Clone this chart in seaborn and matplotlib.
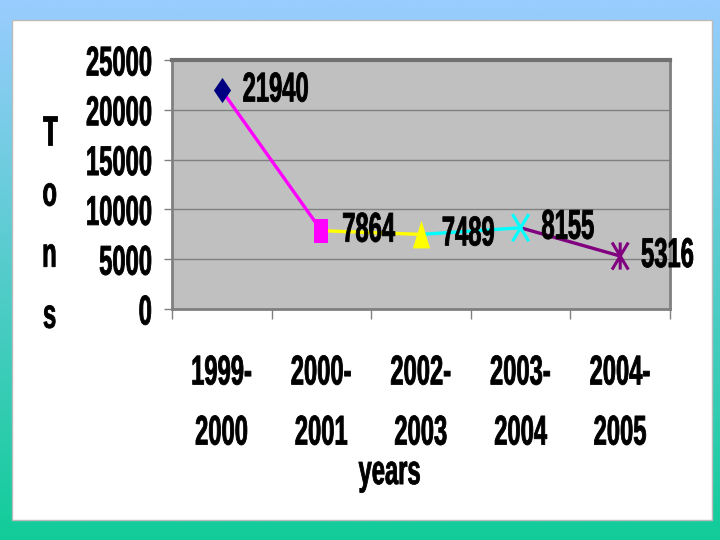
import numpy as np
import pandas as pd
import matplotlib
matplotlib.use("Agg")
import matplotlib.pyplot as plt
import seaborn as sns
from matplotlib.path import Path
from matplotlib.patches import Rectangle
from matplotlib import patheffects
from matplotlib.transforms import Affine2D

# --- data ---
periods = ["1999-\n2000", "2000-\n2001", "2002-\n2003", "2003-\n2004", "2004-\n2005"]
tons = [21940, 7864, 7489, 8155, 5316]
point_colors = ["#000080", "#FF00FF", "#FFFF00", "#00FFFF", "#800080"]
segment_colors = ["#FF00FF", "#FFFF00", "#00FFFF", "#800080"]
yticks = [0, 5000, 10000, 15000, 20000, 25000]

# tall (stretched) markers like the Excel original
MOVE, LINE = Path.MOVETO, Path.LINETO
diamond = [(0, 1), (0.68, 0), (0, -1), (-0.68, 0)]
rect = [(-0.55, -1), (0.55, -1), (0.55, 1), (-0.55, 1)]
tri = [(0, 1), (0.62, -1), (-0.62, -1)]
xmark = Path([(-0.6, -1), (0.6, 1), (-0.6, 1), (0.6, -1)], [MOVE, LINE, MOVE, LINE])
star = Path([(-0.6, -1), (0.6, 1), (-0.6, 1), (0.6, -1), (0, -1), (0, 1)],
            [MOVE, LINE, MOVE, LINE, MOVE, LINE])
markers = [diamond, rect, tri, xmark, star]
sizes = [330, 300, 400, 380, 380]
filled = [True, True, True, False, False]


class Narrow(patheffects.AbstractPathEffect):
    """Squeeze text horizontally and thicken it a bit (fake Arial Narrow Bold)."""

    def __init__(self, sx=0.57, anchor="center", stroke=0.6):
        super().__init__()
        self.sx = sx
        self.anchor = anchor
        self.stroke = stroke

    def draw_path(self, renderer, gc, tpath, affine, rgbFace=None):
        v = tpath.vertices
        if len(v) == 0:
            return
        x0, x1 = v[:, 0].min(), v[:, 0].max()
        a = {"left": x0, "right": x1, "center": (x0 + x1) / 2}[self.anchor]
        t = Affine2D().translate(-a, 0).scale(self.sx, 1).translate(a, 0)
        gc0 = renderer.new_gc()
        gc0.copy_properties(gc)
        gc0.set_linewidth(self.stroke)
        gc0.set_foreground(rgbFace)
        renderer.draw_path(gc0, tpath, t + affine, rgbFace)
        gc0.restore()


sns.set_theme(style="white")
plt.rcParams["font.family"] = ["Liberation Sans", "DejaVu Sans"]
plt.rcParams["font.weight"] = "bold"
plt.rcParams["text.color"] = "black"
FS = 30
SX = 0.57

fig = plt.figure(figsize=(7.2, 5.4), dpi=100)

# --- slide background: blue -> green gradient with white panel ---
bg = fig.add_axes([0, 0, 1, 1], zorder=0)
g = np.linspace(0, 1, 256)[:, None, None]
top = np.array([153, 204, 255]) / 255
bot = np.array([17, 204, 153]) / 255
img = np.repeat(top * (1 - g) + bot * g, 2, axis=1)
bg.imshow(img, aspect="auto", extent=[0, 1, 0, 1], origin="upper")
bg.add_patch(Rectangle((12 / 720, 20 / 540), 700 / 720, 500 / 540,
                       facecolor="white", edgecolor="#bbbbbb", lw=1))
bg.set_xlim(0, 1)
bg.set_ylim(0, 1)
bg.axis("off")

# --- plot area ---
ax = fig.add_axes([172 / 720, 231 / 540, 498 / 720, 249 / 540], zorder=1)
ax.set_facecolor("#C0C0C0")

pos = np.arange(len(tons))
rows = []
for i in range(len(tons) - 1):
    rows.append({"pos": pos[i], "tons": tons[i], "seg": i})
    rows.append({"pos": pos[i + 1], "tons": tons[i + 1], "seg": i})
seg_df = pd.DataFrame(rows)

sns.lineplot(data=seg_df, x="pos", y="tons", hue="seg", palette=segment_colors,
             lw=2.4, legend=False, sort=False, ax=ax, zorder=3)

for i, v in enumerate(tons):
    c = point_colors[i]
    sns.scatterplot(x=[pos[i]], y=[v], marker=markers[i], s=sizes[i],
                    color=c if filled[i] else "none", edgecolor=c,
                    linewidth=0 if filled[i] else 2.2, ax=ax, zorder=5)
    t = ax.annotate(f"{v}", (pos[i], v), xytext=(15, 0), textcoords="offset points",
                    ha="left", va="center", fontsize=FS, fontweight="bold", zorder=6)
    t.set_path_effects([Narrow(SX, "left")])

ax.set_xlim(-0.5, 4.5)
ax.set_ylim(0, 25000)
ax.set_yticks(yticks)
ax.set_yticklabels([str(t) for t in yticks])
ax.set_xticks(pos)
ax.set_xticklabels(periods, linespacing=1.65)
ax.set_xticks(np.arange(-0.5, 5, 1), minor=True)
ax.grid(axis="y", color="#808080", lw=1)
ax.set_axisbelow(True)

ax.tick_params(axis="y", left=True, length=6, width=1, color="#808080",
               pad=8, labelsize=FS, labelcolor="black")
ax.tick_params(axis="x", which="major", bottom=True, length=0, pad=32,
               labelsize=FS, labelcolor="black")
ax.tick_params(axis="x", which="minor", bottom=True, length=7, width=1, color="#808080")
ax.set_xlabel("")
ax.set_ylabel("")

for s in ax.spines.values():
    s.set_visible(True)
    s.set_color("#808080")
    s.set_linewidth(2)
ax.spines["top"].set_linewidth(3)
ax.spines["top"].set_color("#707070")

ylab = fig.text(50 / 720, 0.583, "T\no\nn\ns", ha="center", va="center",
                fontsize=FS, fontweight="bold", linespacing=1.68)
ylab.set_path_effects([Narrow(SX, "center")])
xlab = fig.text(390 / 720, 0.124, "years", ha="center", va="center",
                fontsize=FS, fontweight="bold")
xlab.set_path_effects([Narrow(SX, "center")])

fig.canvas.draw()
for lab in ax.get_yticklabels():
    lab.set_path_effects([Narrow(SX, "right")])
for lab in ax.get_xticklabels():
    lab.set_path_effects([Narrow(SX, "center")])

fig.savefig("out.png", dpi=100)
